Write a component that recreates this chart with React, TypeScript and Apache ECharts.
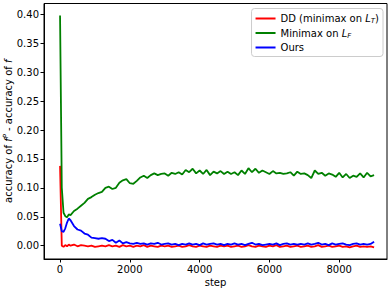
import React, { useEffect, useRef } from "react";
import * as echarts from "echarts";

const steps = [
  0, 50, 100, 150, 200, 250, 300, 400, 500, 600, 700, 800, 900, 1000, 1100, 1200, 1300, 1400, 1500, 1600,
  1700, 1800, 1900, 2000, 2100, 2200, 2300, 2400, 2500, 2600, 2700, 2800, 2900, 3000, 3100, 3200, 3300,
  3400, 3500, 3600, 3700, 3800, 3900, 4000, 4100, 4200, 4300, 4400, 4500, 4600, 4700, 4800, 4900, 5000,
  5100, 5200, 5300, 5400, 5500, 5600, 5700, 5800, 5900, 6000, 6100, 6200, 6300, 6400, 6500, 6600, 6700,
  6800, 6900, 7000, 7100, 7200, 7300, 7400, 7500, 7600, 7700, 7800, 7900, 8000, 8100, 8200, 8300, 8400,
  8500, 8600, 8700, 8800, 8900, 9000,
];

const ddValues = [
  0.138, 0.0, -0.002, 0.001, -0.001, 0.002, 0.0, 0.002, -0.001, 0.001, 0.0, -0.001, 0.0, -0.002, -0.001,
  0.0, -0.001, 0.001, -0.001, 0.0, -0.002, 0.001, -0.001, 0.0, -0.002, 0.0, -0.001, 0.001, -0.002, 0.0,
  -0.001, -0.002, 0.0, -0.001, 0.0, -0.002, -0.001, 0.0, -0.002, -0.001, 0.001, -0.001, -0.002, 0.0,
  -0.001, -0.002, 0.0, -0.001, -0.002, 0.0, -0.001, 0.0, -0.002, -0.001, 0.0, -0.002, -0.001, 0.001,
  -0.001, -0.002, 0.0, -0.001, -0.002, 0.0, -0.001, 0.001, -0.002, -0.001, 0.0, -0.002, -0.001, 0.0,
  -0.002, -0.001, 0.0, -0.002, -0.001, 0.001, -0.002, -0.001, 0.0, -0.002, -0.001, 0.0, -0.002, -0.001,
  -0.003, -0.001, 0.0, -0.002, -0.001, -0.002, -0.001, -0.003,
];

const minimaxValues = [
  0.398, 0.1, 0.057, 0.051, 0.049, 0.054, 0.053, 0.06, 0.064, 0.069, 0.074, 0.081, 0.084, 0.088, 0.091,
  0.093, 0.1, 0.102, 0.098, 0.1, 0.109, 0.113, 0.115, 0.108, 0.107, 0.112, 0.118, 0.121, 0.117, 0.122,
  0.125, 0.122, 0.124, 0.125, 0.121, 0.126, 0.124, 0.127, 0.123, 0.131, 0.127, 0.133, 0.125, 0.13, 0.124,
  0.131, 0.122, 0.128, 0.125, 0.129, 0.124, 0.128, 0.124, 0.127, 0.122, 0.13, 0.124, 0.134, 0.127, 0.133,
  0.126, 0.13, 0.127, 0.124, 0.129, 0.125, 0.126, 0.124, 0.125, 0.127, 0.121, 0.128, 0.124, 0.125, 0.122,
  0.117, 0.13, 0.124, 0.126, 0.121, 0.125, 0.123, 0.119, 0.126, 0.118, 0.124, 0.117, 0.121, 0.119, 0.125,
  0.118, 0.126, 0.12, 0.122,
];

const oursValues = [
  0.038, 0.025, 0.024, 0.03, 0.04, 0.047, 0.044, 0.034, 0.028, 0.026, 0.021, 0.019, 0.014, 0.013, 0.012,
  0.013, 0.012, 0.008, 0.01, 0.005, 0.009, 0.004, 0.006, 0.004, 0.003, 0.005, 0.003, 0.004, 0.002, 0.004,
  0.003, 0.005, 0.002, 0.003, 0.004, 0.002, 0.003, 0.001, 0.003, 0.002, 0.004, 0.002, 0.003, 0.001, 0.004,
  0.002, 0.003, 0.004, 0.002, 0.003, 0.001, 0.003, 0.002, 0.004, 0.002, 0.003, 0.001, 0.003, 0.005, 0.002,
  0.003, 0.001, 0.002, 0.003, 0.002, 0.004, 0.001, 0.003, 0.004, 0.002, 0.003, 0.002, 0.003, 0.002, 0.004,
  0.002, 0.003, 0.005, 0.002, 0.003, 0.001, 0.004, 0.002, 0.003, 0.004, 0.002, 0.001, 0.003, 0.004, 0.002,
  0.003, 0.002, 0.003, 0.007,
];

const xTicks = [0, 2000, 4000, 6000, 8000];
const yTicks = [0, 0.05, 0.1, 0.15, 0.2, 0.25, 0.3, 0.35, 0.4];

const FONT = "DejaVu Sans";

export default function App() {
  const ref = useRef<HTMLDivElement>(null);
  useEffect(() => {
    if (!ref.current) return;
    const chart = echarts.init(ref.current, null, { renderer: "svg" });
    const pair = (vals: number[]) => steps.map((s, i) => [s, vals[i]]);
    const lineSeries = (name: string, color: string, vals: number[]) => ({
      name,
      type: "line",
      data: pair(vals),
      showSymbol: false,
      symbol: "none",
      lineStyle: { color, width: 1.8 },
      itemStyle: { color },
      emphasis: { disabled: true },
    });
    const sub = { fontSize: 7, fontStyle: "italic", fontFamily: FONT, color: "#000", padding: [5, 0, 0, 0] };
    chart.setOption({
      animation: false,
      grid: {
        left: 44,
        right: 4,
        top: 3.5,
        bottom: 30,
        containLabel: false,
        outerBoundsMode: "none",
        show: true,
        borderColor: "#000",
        borderWidth: 1,
        backgroundColor: "#fff",
      },
      xAxis: {
        type: "value",
        min: -460,
        max: 9370,
        name: "step",
        nameLocation: "middle",
        nameGap: 18,
        nameMoveOverlap: false,
        nameTextStyle: { fontFamily: FONT, fontSize: 10, color: "#000" },
        axisLine: { show: true, onZero: false, lineStyle: { color: "#000", width: 1 } },
        axisTick: { show: true, length: 3.5, customValues: xTicks, lineStyle: { color: "#000" } },
        axisLabel: {
          customValues: xTicks,
          formatter: (v: number) => String(Math.round(v)),
          fontFamily: FONT,
          fontSize: 10,
          color: "#000",
          margin: 5,
        },
        splitLine: { show: false },
      },
      yAxis: {
        type: "value",
        min: -0.023,
        max: 0.4187,
        name: "{n|accuracy of }{i|f}{s|P}{n| - accuracy of }{i|f}",
        nameLocation: "middle",
        nameGap: 30,
        nameMoveOverlap: false,
        nameTextStyle: {
          fontFamily: FONT,
          fontSize: 10,
          color: "#000",
          rich: {
            n: { fontFamily: FONT, fontSize: 10, color: "#000" },
            i: { fontFamily: FONT, fontSize: 10, fontStyle: "italic", color: "#000" },
            s: { fontFamily: FONT, fontSize: 7, fontStyle: "italic", color: "#000", padding: [0, 0, 5, 0] },
          },
        },
        axisLine: { show: true, onZero: false, lineStyle: { color: "#000", width: 1 } },
        axisTick: { show: true, length: 3.5, customValues: yTicks, lineStyle: { color: "#000" } },
        axisLabel: {
          customValues: yTicks,
          formatter: (v: number) => v.toFixed(2),
          fontFamily: FONT,
          fontSize: 10,
          color: "#000",
          margin: 5,
        },
        splitLine: { show: false },
      },
      legend: {
        orient: "vertical",
        right: 8,
        top: 8.5,
        backgroundColor: "rgba(255,255,255,0.8)",
        borderColor: "#ccc",
        borderWidth: 1,
        borderRadius: 3,
        padding: [4, 4, 3, 4],
        itemWidth: 20,
        itemHeight: 2,
        itemGap: 2.5,
        icon: "rect",
        data: ["DD", "Minimax", "Ours"],
        formatter: (name: string) => {
          if (name === "DD") return "{n|DD (minimax on }{i|L}{s|T}{n|)}";
          if (name === "Minimax") return "{n|Minimax on }{i|L}{s|F}";
          return "{n|Ours}";
        },
        textStyle: {
          fontFamily: FONT,
          fontSize: 10,
          color: "#000",
          lineHeight: 12,
          rich: {
            n: { fontFamily: FONT, fontSize: 10, color: "#000", lineHeight: 12 },
            i: { fontFamily: FONT, fontSize: 10, fontStyle: "italic", color: "#000", lineHeight: 12 },
            s: sub,
          },
        },
      },
      series: [
        lineSeries("DD", "#ff0000", ddValues),
        lineSeries("Minimax", "#008000", minimaxValues),
        lineSeries("Ours", "#0000ff", oursValues),
      ],
    });
    return () => chart.dispose();
  }, []);
  return <div ref={ref} style={{ width: 391, height: 289, position: "absolute", left: 0, top: 0 }} />;
}
